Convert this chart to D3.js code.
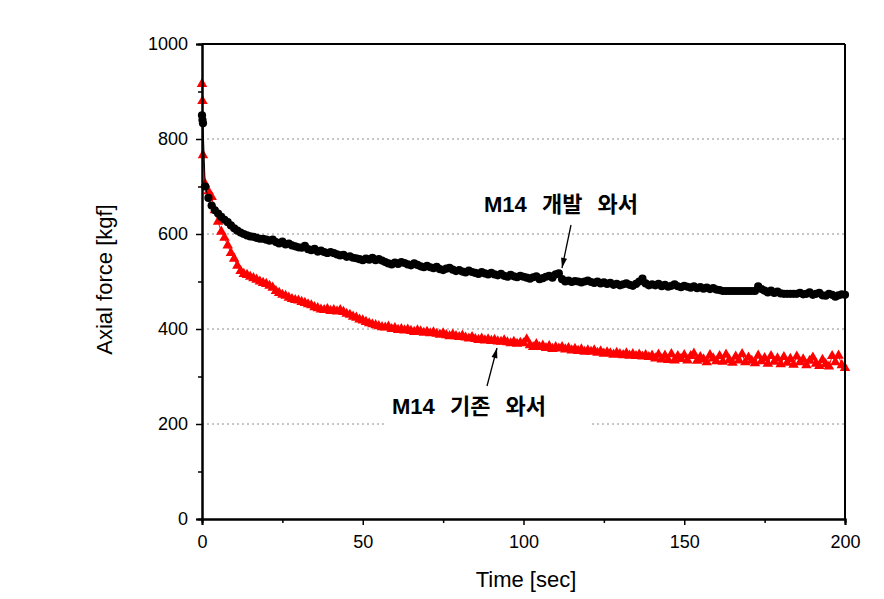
<!DOCTYPE html>
<html>
<head>
<meta charset="utf-8">
<script src="https://cdn.jsdelivr.net/npm/d3@7"></script>
<style>
  html, body { margin: 0; padding: 0; background: #fff; }
  svg { display: block; }
</style>
</head>
<body>
<svg id="chart" width="884" height="599"></svg>
<script>
// ---- data ----
const earlyTimes = [0, 0.15, 0.3];
const devEarly = [850, 840, 833];        // M14 개발 와서 (black circles)
const stdEarly = [916, 880, 766];        // M14 기존 와서 (red triangles)

// values at t = 1..200 sec
const devValues = [
  700, 676, 660, 650, 643, 636, 630, 625, 618, 612,
  607, 603, 600, 597, 595, 594, 592, 590, 590, 588,
  586, 588, 583, 580, 584, 578, 580, 576, 574, 572,
  571, 575, 568, 566, 569, 563, 565, 562, 560, 562,
  560, 557, 555, 556, 552, 553, 550, 549, 547, 545,
  548, 546, 550, 545, 547, 544, 541, 538, 536, 540,
  537, 541, 539, 536, 534, 538, 535, 532, 530, 533,
  530, 528, 531, 526, 524, 527, 529, 525, 522, 524,
  521, 519, 523, 520, 518, 516, 520, 517, 515, 518,
  515, 513, 516, 512, 510, 514, 511, 509, 512, 510,
  508, 506, 509, 511, 505, 507, 510, 512, 508, 515,
  517, 505, 500, 502, 499, 501, 500, 498, 500, 502,
  499, 497, 500, 496, 498, 495, 497, 493, 495, 492,
  494, 496, 493, 491, 495, 500, 506, 496, 492, 494,
  492, 495, 490, 493, 489, 491, 494, 490, 488, 491,
  489, 487, 490, 486, 488, 485, 487, 484, 486, 483,
  482, 480, 480, 480, 480, 480, 480, 480, 480, 480,
  480, 480, 490, 484, 481, 477, 481, 476, 479, 475,
  474, 474, 474, 474, 474, 476, 473, 474, 477, 472,
  474, 476, 471, 470, 474, 472, 468, 471, 473, 472
];
const stdValues = [
  705, 690, 678, 650, 626, 605, 592, 576, 560, 548,
  533, 522, 516, 514, 510, 507, 504, 500, 497, 495,
  491, 487, 480, 476, 472, 470, 466, 463, 461, 460,
  457, 455, 452, 450, 446, 444, 441, 440, 442, 438,
  440, 437, 440, 436, 432, 430, 426, 424, 420, 418,
  415, 412, 410, 408, 406, 404, 403, 405, 400, 402,
  398, 400, 397, 399, 396, 394, 397, 395, 392, 394,
  391, 393, 390, 388, 391, 387, 385, 388, 385, 383,
  386, 382, 380, 383, 379, 377, 380, 376, 378, 375,
  377, 374, 373, 376, 372, 370, 373, 369, 371, 370,
  378, 366, 362, 368, 362, 365, 360, 364, 358, 362,
  359, 362, 357, 360, 355, 358, 354, 357, 352, 355,
  352, 355, 350, 353, 348, 351, 349, 346, 350, 347,
  345, 349, 344, 347, 343, 346, 342, 345, 341, 344,
  338, 346, 336, 344, 335, 347, 334, 343, 337, 345,
  334, 343, 348, 333, 341, 336, 330, 345, 338, 332,
  343, 331, 346, 335, 329, 342, 334, 347, 330, 340,
  333, 328, 344, 332, 339, 327, 343, 331, 338, 326,
  341, 329, 337, 325, 342, 330, 336, 324, 333, 340,
  327, 322, 335, 326, 321, 343, 330, 344, 324, 318
];
const xTicks = [0, 50, 100, 150, 200];
const xMinor = [25, 75, 125, 175];
const yTicks = [0, 200, 400, 600, 800, 1000];
const yMinor = [100, 300, 500, 700, 900];
const gridValues = [200, 400, 600, 800];
const devLabel = "M14 개발 와서";
const stdLabel = "M14 기존 와서";
const xTitle = "Time [sec]";
const yTitle = "Axial force [kgf]";

// ---- build series ----
const seconds = d3.range(1, 201);
const times = earlyTimes.concat(seconds);
const devData = times.map((t, i) => ({t, v: devEarly.concat(devValues)[i]}));
const stdData = times.map((t, i) => ({t, v: stdEarly.concat(stdValues)[i]}));

// ---- layout ----
const svg = d3.select("#chart");
const L = 202, R = 845, T = 44, B = 519;
const x = d3.scaleLinear().domain([0, 200]).range([L, R]);
const y = d3.scaleLinear().domain([0, 1000]).range([B, T]);
const font = "'Liberation Sans', Arial, 'Noto Sans CJK KR', sans-serif";

// gridlines
svg.append("g").selectAll("line").data(gridValues).join("line")
  .attr("x1", L).attr("x2", R)
  .attr("y1", d => y(d)).attr("y2", d => y(d))
  .attr("stroke", "#8c8c8c").attr("stroke-width", 1)
  .attr("stroke-dasharray", "2,3");

// label background (white box as in original)
svg.append("rect").attr("x", 385).attr("y", 388).attr("width", 205).attr("height", 40).attr("fill", "#fff");

// series
const line = d3.line().x(d => x(d.t)).y(d => y(d.v));
svg.append("path").datum(stdData).attr("d", line)
  .attr("fill", "none").attr("stroke", "#ff0000").attr("stroke-width", 1);
svg.append("g").selectAll("path").data(stdData).join("path")
  .attr("d", d3.symbol().type(d3.symbolTriangle).size(48))
  .attr("transform", d => `translate(${x(d.t)},${y(d.v)})`)
  .attr("fill", "#ff0000");

svg.append("path").datum(devData).attr("d", line)
  .attr("fill", "none").attr("stroke", "#000").attr("stroke-width", 1);
svg.append("g").selectAll("circle").data(devData).join("circle")
  .attr("cx", d => x(d.t)).attr("cy", d => y(d.v)).attr("r", 4.1)
  .attr("fill", "#000");

// frame
svg.append("line").attr("x1", L).attr("x2", R).attr("y1", T).attr("y2", T)
  .attr("stroke", "#000").attr("stroke-width", 2);
svg.append("line").attr("x1", R).attr("x2", R).attr("y1", T).attr("y2", B)
  .attr("stroke", "#000").attr("stroke-width", 2);

// axes
const xAxis = svg.append("g").attr("transform", `translate(0,${B})`)
  .call(d3.axisBottom(x).tickValues(xTicks).tickSize(6).tickPadding(10).tickFormat(d3.format("d")));
const xAxisMinor = svg.append("g").attr("transform", `translate(0,${B})`)
  .call(d3.axisBottom(x).tickValues(xMinor).tickSize(4).tickFormat(""));
const yAxis = svg.append("g").attr("transform", `translate(${L},0)`)
  .call(d3.axisLeft(y).tickValues(yTicks).tickSize(6).tickPadding(8).tickFormat(d3.format("d")));
const yAxisMinor = svg.append("g").attr("transform", `translate(${L},0)`)
  .call(d3.axisLeft(y).tickValues(yMinor).tickSize(4).tickFormat(""));

[xAxis, xAxisMinor, yAxis, yAxisMinor].forEach(g => {
  g.select(".domain").attr("stroke", "#000").attr("stroke-width", 2);
  g.selectAll(".tick line").attr("stroke", "#000").attr("stroke-width", 1.5);
  g.selectAll(".tick text").attr("fill", "#000")
    .style("font-family", font).style("font-size", "18px");
});

// axis titles
svg.append("text").attr("x", 526).attr("y", 587)
  .attr("text-anchor", "middle")
  .style("font-family", font).style("font-size", "22px")
  .text(xTitle);
svg.append("text")
  .attr("transform", `translate(112,${(T + B) / 2 - 2}) rotate(-90)`)
  .attr("text-anchor", "middle")
  .style("font-family", font).style("font-size", "22px")
  .text(yTitle);

// annotations
function annot(label, tx, ty, x1, y1, x2, y2) {
  svg.append("text").attr("x", tx).attr("y", ty)
    .style("font-family", font).style("font-size", "22px")
    .style("font-weight", "bold").style("word-spacing", "9px")
    .attr("fill", "#000").text(label);
  svg.append("line").attr("x1", x1).attr("y1", y1).attr("x2", x2).attr("y2", y2)
    .attr("stroke", "#000").attr("stroke-width", 1.3);
  const ang = Math.atan2(y2 - y1, x2 - x1);
  const len = 10, w = 3;
  const bx = x2 - len * Math.cos(ang), by = y2 - len * Math.sin(ang);
  const px = -Math.sin(ang) * w, py = Math.cos(ang) * w;
  svg.append("path")
    .attr("d", `M${x2},${y2} L${bx + px},${by + py} L${bx - px},${by - py} Z`)
    .attr("fill", "#000");
}
annot(devLabel, 484, 212, 571, 225, 562, 268);
annot(stdLabel, 392, 414, 487, 386, 497, 348);
</script>
</body>
</html>
